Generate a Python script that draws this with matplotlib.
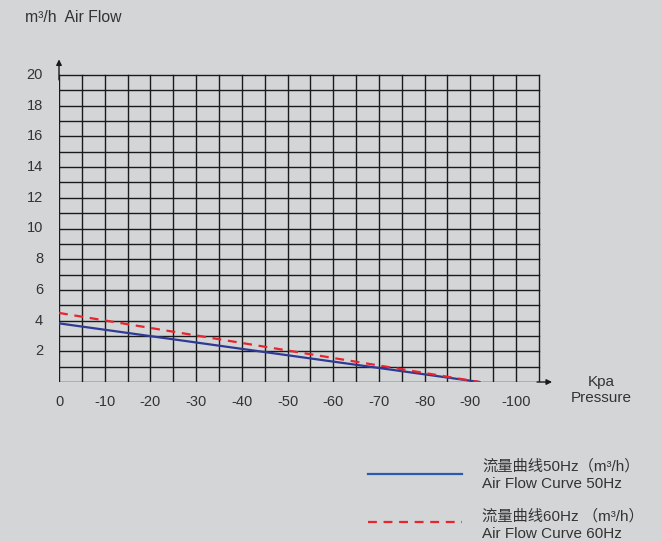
import numpy as np
import matplotlib.pyplot as plt

plt.rcParams['font.family'] = ['Liberation Sans', 'Noto Sans CJK SC', 'DejaVu Sans']

# data
pressure = [0, -92]
flow_50hz = [3.82, 0.0]
flow_60hz = [4.5, 0.0]
x_ticks = [0, -10, -20, -30, -40, -50, -60, -70, -80, -90, -100]
y_ticks = [2, 4, 6, 8, 10, 12, 14, 16, 18, 20]

bg = '#d4d5d7'
txt = '#333333'
W, H = 661, 542
dpi = 100
fig = plt.figure(figsize=(W / dpi, H / dpi), dpi=dpi, facecolor=bg)

# axes placed in pixel units: x 0 at px 59, 45.7 px per 10; y 0 at px 382, 15.35 px per unit
x0, y0 = 59, 382
xlim = (0, -110)
ylim = (0, 22)
wpx = 110 * 4.57
hpx = 22 * 15.35
ax = fig.add_axes([x0 / W, (H - y0) / H, wpx / W, hpx / H])
ax.set_facecolor(bg)
ax.set_xlim(*xlim)
ax.set_ylim(*ylim)
for s in ax.spines.values():
    s.set_visible(False)
ax.set_xticks([])
ax.set_yticks([])

# grid
for xv in np.arange(0, -105.1, -5):
    ax.plot([xv, xv], [0, 20], color='#1a1a1a', lw=1.0, zorder=1)
for yv in np.arange(0, 20.1, 1):
    ax.plot([0, -105], [yv, yv], color='#1a1a1a', lw=1.0, zorder=1)

# axis arrows
ax.annotate('', xy=(-108.5, 0), xytext=(-104, 0),
            arrowprops=dict(arrowstyle='-|>', color='#1a1a1a', lw=1.0, mutation_scale=8),
            annotation_clip=False)
ax.annotate('', xy=(0, 21.2), xytext=(0, 19.5),
            arrowprops=dict(arrowstyle='-|>', color='#1a1a1a', lw=1.0, mutation_scale=8),
            annotation_clip=False)

# curves
ax.plot(pressure, flow_50hz, color='#2e3a94', lw=1.6, zorder=3)
ax.plot(pressure, flow_60hz, color='#e8252d', lw=1.6, ls=(0, (4, 3)), zorder=3)

# tick labels
for xv in x_ticks:
    ax.text(xv, -1.3, str(xv), ha='center', va='center', fontsize=10.5, color=txt)
for yv in y_ticks:
    ax.text(3.5, yv, str(yv), ha='right', va='center', fontsize=10.5, color=txt)

# axis titles
fig.text(25 / W, 1 - 18 / H, 'm³/h  Air Flow', ha='left', va='center', fontsize=11.3, color=txt)
fig.text(601 / W, 1 - 382 / H, 'Kpa', ha='center', va='center', fontsize=11, color=txt)
fig.text(601 / W, 1 - 398 / H, 'Pressure', ha='center', va='center', fontsize=11, color=txt)

# legend
fig.add_artist(plt.Line2D([368 / W, 462 / W], [1 - 474 / H, 1 - 474 / H],
                          color='#2a5bb0', lw=1.6))
fig.add_artist(plt.Line2D([368 / W, 462 / W], [1 - 522 / H, 1 - 522 / H],
                          color='#e8252d', lw=1.6, ls=(0, (4, 3))))
fig.text(482 / W, 1 - 466 / H, '流量曲线50Hz（m³/h）', ha='left', va='center', fontsize=11, color=txt)
fig.text(482 / W, 1 - 484 / H, 'Air Flow Curve 50Hz', ha='left', va='center', fontsize=11, color=txt)
fig.text(482 / W, 1 - 516 / H, '流量曲线60Hz （m³/h）', ha='left', va='center', fontsize=11, color=txt)
fig.text(482 / W, 1 - 534 / H, 'Air Flow Curve 60Hz', ha='left', va='center', fontsize=11, color=txt)

fig.savefig('out.png', dpi=dpi, facecolor=bg)
